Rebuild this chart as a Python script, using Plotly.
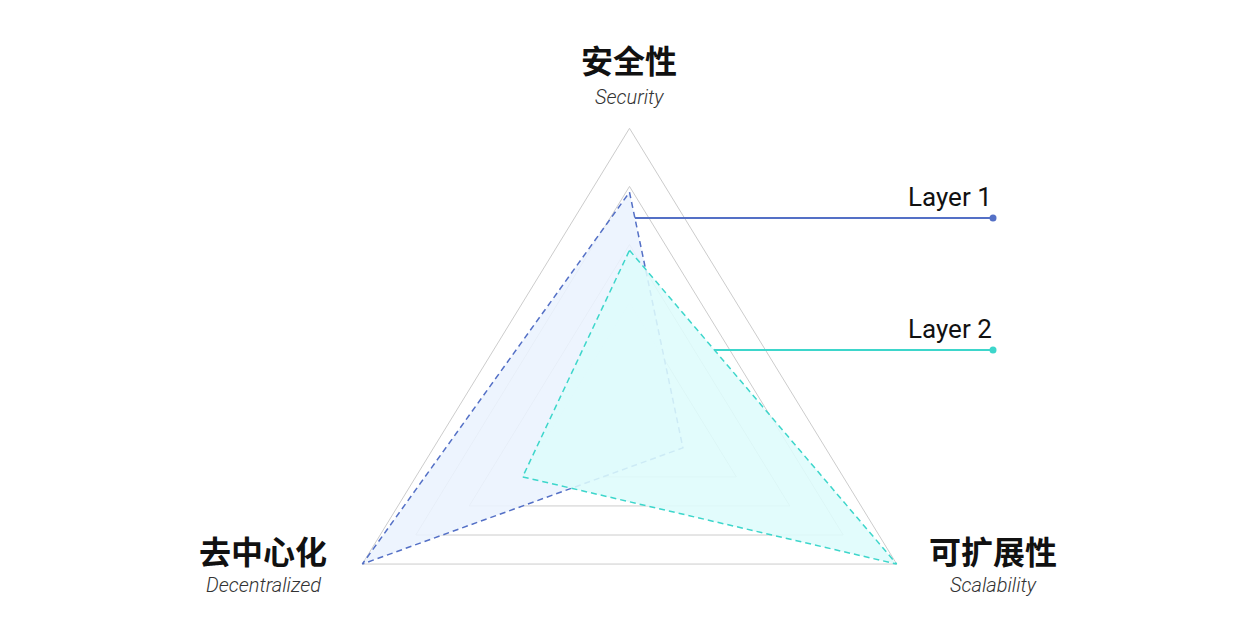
import math
import plotly.graph_objects as go

# ---- data ----
categories_zh = ["安全性", "可扩展性", "去中心化"]
categories_en = ["Security", "Scalability", "Decentralized"]
axis_angles = [90, -30, 210]          # degrees, direction of each axis
series_names = ["Layer 1", "Layer 2"]
layer1 = [0.78, 0.20, 1.00]
layer2 = [0.58, 1.00, 0.40]
grid_levels = [0.4, 0.6, 0.8, 1.0]

W, H = 1255, 644
OFF = 8                   # page body margin in the browser
CX, CY = 629.5 - OFF, 418.8 - OFF     # centre in figure pixels
RX, RY = 308.5, 290.5     # pixels per unit along x / y

dirs = [(math.cos(math.radians(a)), math.sin(math.radians(a))) for a in axis_angles]


def poly(values):
    xs = [v * d[0] for v, d in zip(values, dirs)]
    ys = [v * d[1] for v, d in zip(values, dirs)]
    return xs + xs[:1], ys + ys[:1]


def px2x(px):
    return (px - OFF - CX) / RX


def py2y(py):
    return (CY - (py - OFF)) / RY


fig = go.Figure()

# grid triangles
for lv in grid_levels:
    gx, gy = poly([lv] * len(dirs))
    fig.add_trace(go.Scatter(x=gx, y=gy, mode="lines",
                             line=dict(color="#cccccc", width=1),
                             hoverinfo="skip", showlegend=False))

styles = [
    dict(line="#5470c6", fill="rgba(235,243,254,0.88)"),
    dict(line="#3dd6cb", fill="rgba(222,252,252,0.88)"),
]
for name, vals, st in zip(series_names, [layer1, layer2], styles):
    sx, sy = poly(vals)
    fig.add_trace(go.Scatter(x=sx, y=sy, mode="lines", fill="toself",
                             fillcolor=st["fill"],
                             line=dict(color=st["line"], width=1.5, dash="6px,4px"),
                             name=name, hoverinfo="skip", showlegend=False))

# legend connectors: horizontal line from a series edge (Security->Scalability) to the right
conn_py = [218, 350]
end_px = 993
for name, vals, st, py in zip(series_names, [layer1, layer2], styles, conn_py):
    y0 = py2y(py)
    ax_, ay_ = vals[0] * dirs[0][0], vals[0] * dirs[0][1]
    bx_, by_ = vals[1] * dirs[1][0], vals[1] * dirs[1][1]
    t = (ay_ - y0) / (ay_ - by_)
    x0 = ax_ + t * (bx_ - ax_)
    fig.add_trace(go.Scatter(x=[x0, px2x(end_px)], y=[y0, y0], mode="lines",
                             line=dict(color=st["line"], width=2),
                             hoverinfo="skip", showlegend=False))
    fig.add_trace(go.Scatter(x=[px2x(end_px)], y=[y0], mode="markers",
                             marker=dict(color=st["line"], size=7),
                             hoverinfo="skip", showlegend=False))
    fig.add_annotation(x=px2x(end_px + 1), y=y0, xref="x", yref="y",
                       text=name, showarrow=False, xanchor="right", yanchor="bottom",
                       yshift=4,
                       font=dict(family="Roboto", size=26, color="#111111"))

# axis labels (page pixel positions of their centres)
label_pos = [(629, 59, 97), (993, 550, 585), (263, 550, 585)]
for zh, en, (lx, ly_zh, ly_en) in zip(categories_zh, categories_en, label_pos):
    fig.add_annotation(x=(lx - OFF) / W, y=1 - (ly_zh - OFF) / H,
                       xref="paper", yref="paper",
                       text="<b>" + zh + "</b>", showarrow=False,
                       xanchor="center", yanchor="middle",
                       font=dict(family="Noto Sans CJK SC", size=32, color="#111111"))
    fig.add_annotation(x=(lx - OFF) / W, y=1 - (ly_en - OFF) / H,
                       xref="paper", yref="paper",
                       text="<i>" + en + "</i>", showarrow=False,
                       xanchor="center", yanchor="middle",
                       font=dict(family="Roboto", size=20, color="#333333", weight=300))

fig.update_layout(
    width=W, height=H,
    margin=dict(l=0, r=0, t=0, b=0),
    paper_bgcolor="white", plot_bgcolor="white",
    xaxis=dict(range=[px2x(OFF), px2x(W + OFF)], visible=False, fixedrange=True),
    yaxis=dict(range=[py2y(H + OFF), py2y(OFF)], visible=False, fixedrange=True),
    showlegend=False,
)

fig.write_html("out.html")
